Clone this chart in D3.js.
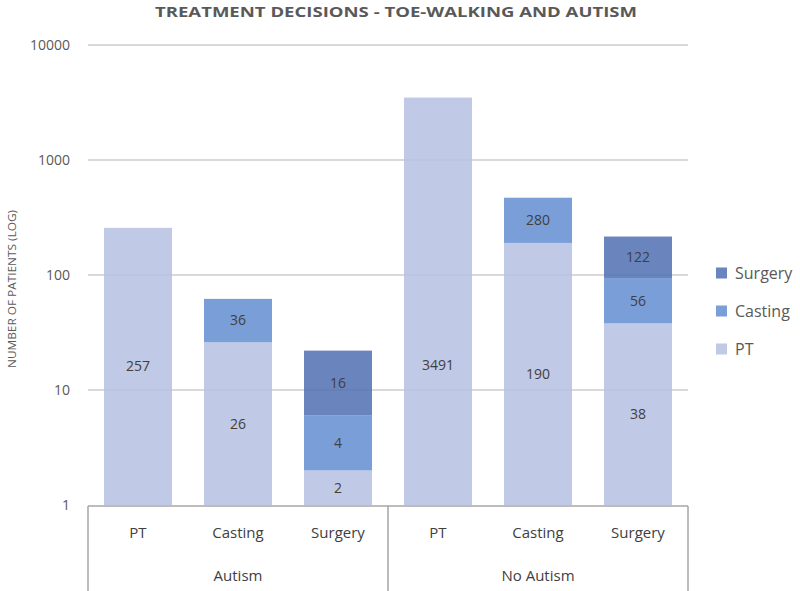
<!DOCTYPE html>
<html>
<head>
<meta charset="utf-8">
<script src="https://cdn.jsdelivr.net/npm/d3@7/dist/d3.min.js"></script>
<style>
  html, body { margin: 0; padding: 0; background: #fff; }
  svg { display: block; font-family: "Open Sans", "Noto Sans", sans-serif; }
</style>
</head>
<body>
<svg id="chart" width="800" height="591"></svg>
<script>
// ---- data ----
const groups = ["Autism", "No Autism"];
const categories = ["PT", "Casting", "Surgery"];
const seriesNames = ["PT", "Casting", "Surgery"];
// values per bar (group x category), for each series
const ptValues      = [257, 26, 2, 3491, 190, 38];
const castingValues = [0, 36, 4, 0, 280, 56];
const surgeryValues = [0, 0, 16, 0, 0, 122];
const yTicks = [1, 10, 100, 1000, 10000];

// ---- style ----
const colors = { PT: "#b5bfe2", Casting: "#638dd1", Surgery: "#506fb1" };
const barOpacity = 0.85;
const labelShift = { "No Autism|PT": 64 }; // reference places this label lower

const svg = d3.select("#chart");
const W = 800, H = 591;
const plot = { left: 88, right: 688, top: 45, bottom: 505 };

const bars = [];
groups.forEach((g, gi) => categories.forEach((c, ci) => {
  const i = gi * categories.length + ci;
  bars.push({ key: g + "|" + c, group: g, cat: c,
    PT: ptValues[i], Casting: castingValues[i], Surgery: surgeryValues[i] });
}));

const x = d3.scaleBand().domain(bars.map(d => d.key))
  .range([plot.left, plot.right]).paddingInner(0.32).paddingOuter(0.16);
const y = d3.scaleLog().domain([1, 10000]).range([plot.bottom, plot.top]);

// gridlines
svg.append("g").selectAll("line").data(yTicks.filter(t => t > 1)).join("line")
  .attr("x1", plot.left).attr("x2", plot.right)
  .attr("y1", d => y(d)).attr("y2", d => y(d))
  .attr("stroke", "#d9d9d9").attr("stroke-width", 2);

// y tick labels
svg.append("g").selectAll("text").data(yTicks).join("text")
  .attr("x", 70).attr("y", d => y(d)).attr("dy", "0.35em")
  .attr("text-anchor", "end").attr("font-size", 14).attr("fill", "#595959")
  .text(d => d);

// stacked bars
const stack = d3.stack().keys(seriesNames);
const stacked = stack(bars);
const base = v => (v <= 0 ? 1 : v);
const barG = svg.append("g");
stacked.forEach(layer => {
  const name = layer.key;
  layer.forEach((s, i) => {
    const d = bars[i];
    if (d[name] <= 0) return;
    const y0 = y(base(s[0])), y1 = y(s[1]);
    barG.append("rect")
      .attr("x", x(d.key)).attr("width", x.bandwidth())
      .attr("y", y1).attr("height", y0 - y1)
      .attr("fill", colors[name]).attr("fill-opacity", barOpacity);
    const shift = (name === "PT" && labelShift[d.key]) ? labelShift[d.key] : 0;
    barG.append("text")
      .attr("x", x(d.key) + x.bandwidth() / 2)
      .attr("y", (y0 + y1) / 2 + shift).attr("dy", "0.35em")
      .attr("text-anchor", "middle").attr("font-size", 14).attr("fill", "#404040")
      .text(d[name]);
  });
});

// x axis box
const axG = svg.append("g").attr("stroke", "#a6a6a6").attr("stroke-width", 1.5);
axG.append("line").attr("x1", plot.left).attr("x2", plot.right)
  .attr("y1", plot.bottom + 1).attr("y2", plot.bottom + 1);
const groupEdges = [plot.left, (plot.left + plot.right) / 2, plot.right];
axG.selectAll("line.sep").data(groupEdges).join("line").attr("class", "sep")
  .attr("x1", d => d).attr("x2", d => d)
  .attr("y1", plot.bottom + 1).attr("y2", H);

// category labels
svg.append("g").selectAll("text").data(bars).join("text")
  .attr("x", d => x(d.key) + x.bandwidth() / 2).attr("y", 533).attr("dy", "0.35em")
  .attr("text-anchor", "middle").attr("font-size", 15).attr("fill", "#404040")
  .text(d => d.cat);

// group labels
svg.append("g").selectAll("text").data(groups).join("text")
  .attr("x", (d, i) => (groupEdges[i] + groupEdges[i + 1]) / 2).attr("y", 576).attr("dy", "0.35em")
  .attr("text-anchor", "middle").attr("font-size", 15).attr("fill", "#404040")
  .text(d => d);

// title
svg.append("text").attr("x", 396).attr("y", 12).attr("dy", "0.35em")
  .attr("text-anchor", "middle").attr("font-size", 14).attr("font-weight", "bold")
  .attr("fill", "#595959").attr("textLength", 482).attr("lengthAdjust", "spacingAndGlyphs")
  .text("TREATMENT DECISIONS - TOE-WALKING AND AUTISM");

// y axis title
svg.append("text").attr("transform", "translate(12,289) rotate(-90)").attr("dy", "0.35em")
  .attr("text-anchor", "middle").attr("font-size", 11).attr("fill", "#595959")
  .attr("textLength", 158).attr("lengthAdjust", "spacingAndGlyphs")
  .text("NUMBER OF PATIENTS (LOG)");

// legend
const legendItems = ["Surgery", "Casting", "PT"];
const lg = svg.append("g");
legendItems.forEach((name, i) => {
  const cy = 273 + i * 38;
  lg.append("rect").attr("x", 716).attr("y", cy - 5.5).attr("width", 11).attr("height", 11)
    .attr("fill", colors[name]).attr("fill-opacity", barOpacity);
  lg.append("text").attr("x", 735).attr("y", cy).attr("dy", "0.35em")
    .attr("font-size", 16).attr("fill", "#595959").text(name);
});
</script>
</body>
</html>
